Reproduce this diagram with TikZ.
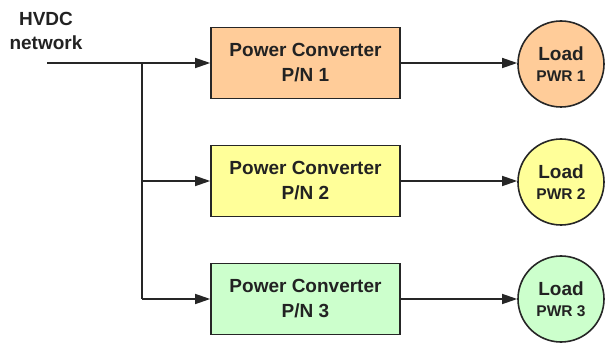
\documentclass[tikz,border=0pt]{standalone}
\usepackage{fontspec}
\setmainfont{Liberation Sans}
\usetikzlibrary{arrows.meta}
\definecolor{txt}{HTML}{222222}
\definecolor{orangef}{HTML}{FFCC99}
\definecolor{yellowf}{HTML}{FFFF99}
\definecolor{greenf}{HTML}{CCFFCC}
\newcommand{\pwrtxt}[1]{\fontsize{15.5}{21}\selectfont #1}
\begin{document}
\begin{tikzpicture}[x=1pt,y=-1pt,
  conv/.style={draw=black!85,line width=1.6pt,minimum width=189pt,minimum height=71pt,inner sep=0pt,
     align=center,font=\fontsize{19}{25}\selectfont\bfseries,text=txt},
  loadc/.style={circle,draw=black!85,line width=1.6pt,minimum size=86pt,inner sep=0pt,
     align=center,text=txt,font=\fontsize{19}{21}\selectfont\bfseries},
  wire/.style={line width=1.4pt,draw=black!85},
  arr/.style={wire,-{Triangle[length=15pt,width=10pt]}}]
\useasboundingbox (0,0) rectangle (610,347);
\node[font=\fontsize{19}{24}\selectfont\bfseries,text=txt,align=center] (hvdc) at (46,31) {HVDC\\network};
\coordinate (in) at (47,63);
\coordinate (j1) at (142,63);
\coordinate (j2) at (142,181);
\coordinate (j3) at (142,299);
\node[conv,fill=orangef] (c1) at (305.5,63) {Power Converter\\P/N 1};
\node[conv,fill=yellowf] (c2) at (305.5,181) {Power Converter\\P/N 2};
\node[conv,fill=greenf] (c3) at (305.5,299) {Power Converter\\P/N 3};
\node[loadc,fill=orangef] (l1) at (561,64) {Load\\\pwrtxt{PWR 1}};
\node[loadc,fill=yellowf] (l2) at (561,182) {Load\\\pwrtxt{PWR 2}};
\node[loadc,fill=greenf] (l3) at (561,299) {Load\\\pwrtxt{PWR 3}};
\draw[arr] (in) -- (c1.west);
\draw[wire] (j1) -- (j3);
\draw[arr] (j2) -- (c2.west);
\draw[arr] (j3) -- (c3.west);
\draw[arr] (c1.east) -- (l1.west |- c1.east);
\draw[arr] (c2.east) -- (l2.west |- c2.east);
\draw[arr] (c3.east) -- (l3.west |- c3.east);
\end{tikzpicture}
\end{document}
